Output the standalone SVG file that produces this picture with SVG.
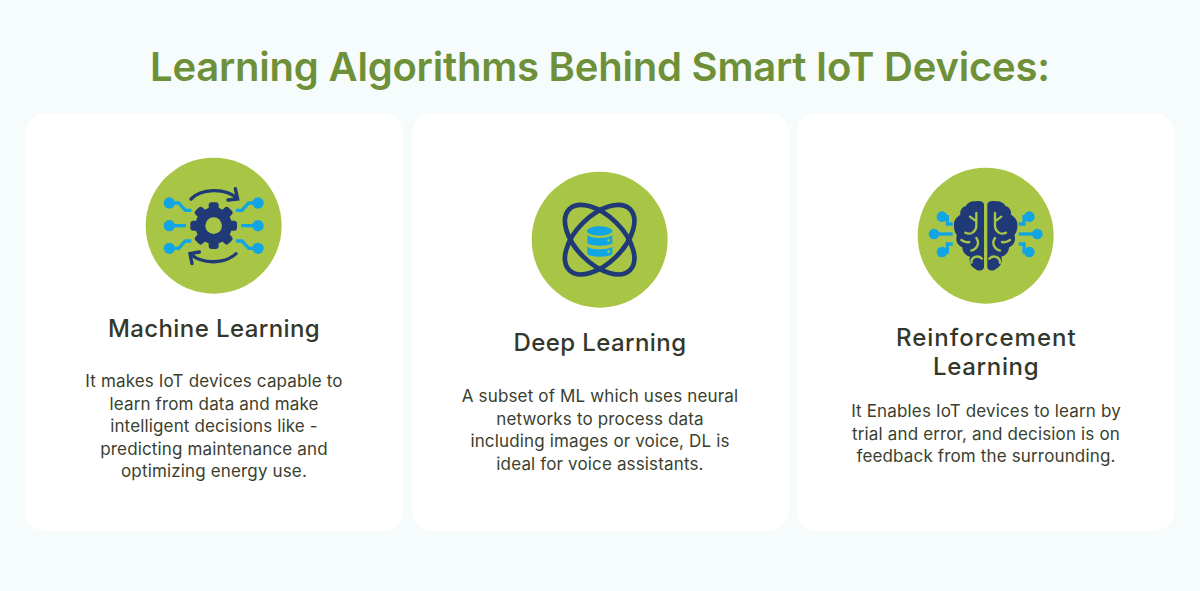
<svg xmlns="http://www.w3.org/2000/svg" width="1200" height="591" viewBox="0 0 1200 591">
<style>
text{font-family:"Inter","Noto Sans","Liberation Sans",sans-serif;text-anchor:middle}
.title{font-size:40px;font-weight:600;fill:#6e9039}
.head{font-size:24px;font-weight:500;fill:#33382a;letter-spacing:.4px}
.body{font-size:17px;fill:#3a3f30;letter-spacing:.15px}
.card{fill:#fff}
.disc{fill:#a8c545}
.navy{fill:none;stroke:#1f3a77;stroke-width:10;stroke-linecap:round}
.blue{fill:none;stroke:#12a5e3;stroke-width:10}
.dot{fill:#12a5e3}
.groove{fill:none;stroke:#a8c545;stroke-width:7;stroke-linecap:round;stroke-linejoin:round}
</style>
<defs>
<g id="hemi">
<path d="M228 138C226 130 214 127 204 130C194 128 178 132 173 145C162 147 155 158 157 170C146 176 136 188 138 202C137 214 141 224 147 232C141 246 148 262 163 268C163 282 174 294 186 296C182 310 187 326 201 332C210 340 226 340 228 328Z" fill="#1f3a77"/>
<path class="groove" d="M186 176L205 190M205 165V205C203 222 188 232 172 224"/>
<path class="groove" d="M205 240C214 252 212 270 190 278M160 246C168 252 176 254 184 252"/>
<path class="groove" d="M190 314C190 296 210 290 222 302"/>
</g>
<g id="wires">
<path class="blue" d="M100 165H128L148 187H166"/>
<path class="blue" d="M100 233H150"/>
<path class="blue" d="M100 301H128L148 279H166"/>
<circle class="dot" cx="100" cy="165" r="17"/>
<circle class="dot" cx="100" cy="233" r="17"/>
<circle class="dot" cx="100" cy="301" r="17"/>
</g>
<g id="brainwires">
<path class="blue" d="M102 176H118V198H134"/>
<path class="blue" d="M80 228H134"/>
<path class="blue" d="M102 282H118V258H134"/>
<circle class="dot" cx="102" cy="176" r="16"/>
<circle class="dot" cx="78" cy="228" r="16"/>
<circle class="dot" cx="102" cy="282" r="16"/>
</g>
<rect id="tooth" x="218" y="163" width="30" height="140" rx="9" fill="#1f3a77"/>
</defs>
<rect width="1200" height="591" fill="#f6fbfb"/>
<text class="title" x="600" y="81" textLength="900" lengthAdjust="spacing">Learning Algorithms Behind Smart IoT Devices:</text>

<g id="card-machine-learning">
<rect class="card" x="25" y="113" width="378" height="418" rx="20"/>
<g transform="translate(136 148) scale(.33333)">
<circle class="disc" cx="233" cy="233" r="204"/>
<use href="#wires"/>
<use href="#wires" transform="translate(466 0) scale(-1 1)"/>
<path class="navy" d="M165 153C195 122 265 118 303 150"/>
<path class="navy" d="M298 122L305 153L276 156"/>
<path class="navy" d="M300 317C268 348 200 350 164 319"/>
<path class="navy" d="M168 347L162 317L190 312"/>
<circle cx="233" cy="233" r="55" fill="#1f3a77"/>
<use href="#tooth"/>
<use href="#tooth" transform="rotate(45 233 233)"/>
<use href="#tooth" transform="rotate(90 233 233)"/>
<use href="#tooth" transform="rotate(135 233 233)"/>
<circle class="disc" cx="233" cy="233" r="25"/>
</g>
<text class="head" x="214" y="337">Machine Learning</text>
<text class="body" x="214" y="387">It makes IoT devices capable to</text>
<text class="body" x="214" y="409.5">learn from data and make</text>
<text class="body" x="214" y="432">intelligent decisions like -</text>
<text class="body" x="214" y="454.5">predicting maintenance and</text>
<text class="body" x="214" y="477">optimizing energy use.</text>
</g>

<g id="card-deep-learning">
<rect class="card" x="412" y="113" width="377" height="418" rx="20"/>
<g transform="translate(522 162) scale(.33333)">
<circle class="disc" cx="233" cy="233" r="204"/>
<ellipse cx="233" cy="233" rx="129" ry="71" fill="none" stroke="#1f3a77" stroke-width="14" transform="rotate(45 233 233)"/>
<ellipse cx="233" cy="233" rx="129" ry="71" fill="none" stroke="#1f3a77" stroke-width="14" transform="rotate(-45 233 233)"/>
<ellipse class="dot" cx="233" cy="207" rx="38" ry="14"/>
<path class="dot" d="M196 219C206 231 260 231 271 219V244C262 254 205 254 196 244Z"/>
<path class="dot" d="M196 254C206 264 260 264 271 254V276C262 287 205 287 196 276Z"/>
<circle cx="260" cy="235" r="4" fill="#a8c545"/>
<circle cx="260" cy="269" r="4" fill="#a8c545"/>
</g>
<text class="head" x="600" y="351">Deep Learning</text>
<text class="body" x="600" y="402">A subset of ML which uses neural</text>
<text class="body" x="600" y="424.5">networks to process data</text>
<text class="body" x="600" y="447">including images or voice, DL is</text>
<text class="body" x="600" y="469.5">ideal for voice assistants.</text>
</g>

<g id="card-reinforcement-learning">
<rect class="card" x="797" y="113" width="377" height="418" rx="20"/>
<g transform="translate(908 158) scale(.33333)">
<circle class="disc" cx="233" cy="233" r="204"/>
<use href="#brainwires"/>
<use href="#brainwires" transform="translate(466 0) scale(-1 1)"/>
<use href="#hemi"/>
<use href="#hemi" transform="translate(466 0) scale(-1 1)"/>
</g>
<text class="head" x="986" y="346" textLength="180">Reinforcement</text>
<text class="head" x="986" y="375" textLength="106">Learning</text>
<text class="body" x="986" y="417">It Enables IoT devices to learn by</text>
<text class="body" x="986" y="439.5">trial and error, and decision is on</text>
<text class="body" x="986" y="462">feedback from the surrounding.</text>
</g>
</svg>
